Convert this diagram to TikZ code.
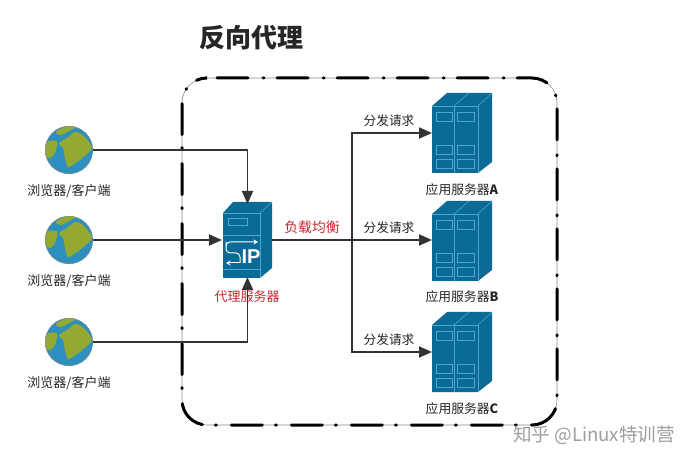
\documentclass[tikz,border=0pt]{standalone}
\usepackage{fontspec}
\setmainfont{Noto Sans CJK SC}
\newfontfamily\headsans{Liberation Sans}
\usetikzlibrary{arrows.meta}
\definecolor{srvblue}{HTML}{0B6A96}
\definecolor{srvline}{HTML}{4BA6CF}
\definecolor{seablue}{HTML}{2C8FBE}
\definecolor{landgreen}{HTML}{93A92F}
\definecolor{linkdark}{HTML}{333333}
\definecolor{alertred}{HTML}{C4282D}
\tikzset{
  iconbox/.style={inner sep=0pt,outer sep=0pt,draw=none,minimum width=#1},
  link/.style={draw=linkdark,line width=1.8pt,-{Triangle[length=13pt,width=11pt]}},
  linkplain/.style={draw=linkdark,line width=1.8pt},
  caption/.style={font=\fontsize{13}{15}\selectfont,text=black!85,inner sep=0pt},
  request/.style={font=\fontsize{12.7}{15}\selectfont,text=black!85,inner sep=0pt},
  appname/.style={font=\fontsize{12.8}{15}\selectfont,text=black!85,inner sep=0pt},
  alert/.style={font=\fontsize{13}{15}\selectfont,text=alertred,inner sep=0pt},
  title/.style={font=\fontsize{26}{30}\selectfont\bfseries,text=black!85,inner sep=0pt},
  watermark/.style={font=\fontsize{18.6}{20}\selectfont,text=black!38,inner sep=0pt},
  panel/.style={draw=black,line width=3pt,rounded corners=25pt,line cap=round},
  panelthin/.style={draw=black!45,line width=.6pt,rounded corners=25pt},
  winbox/.style={draw=srvline,line width=.8pt},
}
\newcommand{\globeicon}[2]{%
  \begin{scope}[shift={(#1,#2)}]
    \fill[seablue] (0,0) circle (24);
    \begin{scope}
      \clip (0,0) circle (24);
      \fill[landgreen] plot[smooth cycle,tension=.5] coordinates {(-10,-7) (-2,-12) (6,-18) (14,-15) (23,-3) (19,3) (8,12) (-1,17) (-4,8) (-6,-2)};
      \fill[landgreen] plot[smooth cycle,tension=.5] coordinates {(-25,-7) (-12,-9) (-14,3) (-19,8) (-25,5)};
      \fill[landgreen] plot[smooth cycle,tension=.5] coordinates {(-13,-18) (-2,-24) (8,-24) (2,-20) (-8,-15)};
      \draw[black!45,line width=1pt,opacity=.55] (0,0) circle (23.5);
    \end{scope}
  \end{scope}}
\newcommand{\rackicon}[1]{%
  \begin{scope}[yshift=#1]
    \fill[srvblue] (432,106) -- (447,93) -- (492,93) -- (492,162) -- (478,173) -- (432,173) -- cycle;
    \draw[srvline,line width=.6pt] (432,106) -- (478,106) -- (478,173);
    \draw[srvline,line width=.6pt] (478,106) -- (492,93);
    \draw[srvline,line width=.6pt] (454,106) -- (454,173);
    \draw[srvline,line width=.6pt] (454,106) -- (469,93);
    \foreach \yy in {112,145,159}{
      \draw[winbox] (436,\yy) rectangle (452,\yy+9);
      \draw[winbox] (457,\yy) rectangle (474,\yy+9);
    }
  \end{scope}}
\begin{document}
\begin{tikzpicture}[x=1pt,y=-1pt]
\useasboundingbox (0,0) rectangle (691,462);
\fill[white] (0,0) rectangle (691,462);
% title
\node[title] (heading) at (251,38) {反向代理};
% dash-dot panel
\draw[panelthin] (182,78) rectangle (557,425);
\draw[panel,dash pattern=on 31pt off 15pt on 1pt off 13pt,dash phase=49pt] (206,78) -- (557,78) -- (557,425) -- (182,425) -- (182,78) -- (206,78);
% clients
\node[iconbox=48pt,minimum height=48pt] (ca) at (69,150) {};
\node[iconbox=48pt,minimum height=48pt] (cb) at (69,240) {};
\node[iconbox=48pt,minimum height=48pt] (cc) at (69,342) {};
\globeicon{69}{150}\globeicon{69}{240}\globeicon{69}{342}
\node[caption] (la) at (69,191) {浏览器/客户端};
\node[caption] (lb) at (69,281) {浏览器/客户端};
\node[caption] (lc) at (69,383) {浏览器/客户端};
% proxy
\node[iconbox=49pt,minimum height=76pt] (proxy) at (247.5,240) {};
\fill[srvblue] (223,213) -- (233,202) -- (272,202) -- (272,268) -- (260,278) -- (223,278) -- cycle;
\draw[srvline,line width=.6pt] (223,213) -- (260,213) -- (260,278);
\draw[srvline,line width=.6pt] (260,213) -- (272,202);
\draw[srvline,line width=.8pt] (228,218) rectangle (247,225);
\draw[srvline,line width=.6pt] (223,235) -- (260,235);
\draw[srvline,line width=.6pt] (223,269) -- (260,269);
\draw[white,line width=1pt,-{Stealth[length=4.5pt,width=5pt]}] (240,263) -- (226,263);
\draw[white,line width=1pt,rounded corners=4pt] (240,263) -- (240,253) -- (226,253) -- (226,242);
\draw[white,line width=1pt,rounded corners=4pt,-{Stealth[length=4.5pt,width=5pt]}] (226,246) -- (226,242) -- (258,242);
\node[inner sep=0pt,text=white,font=\headsans\fontsize{20}{20}\selectfont\bfseries] (iptext) at (251,257) {IP};
\node[alert] (lp) at (247,297) {代理服务器};
\node[alert,font=\fontsize{13.8}{15}\selectfont] (lw) at (312,227) {负载均衡};
% app servers
\node[iconbox=60pt,minimum height=80pt] (sa) at (462,133) {};
\node[iconbox=60pt,minimum height=80pt] (sb) at (462,240) {};
\node[iconbox=60pt,minimum height=80pt] (sc) at (462,352) {};
\rackicon{0}\rackicon{-108}\rackicon{-219}
\node[appname] (ta) at (462,190) {应用服务器\textbf{A}};
\node[appname] (tb) at (462,297) {应用服务器\textbf{B}};
\node[appname] (tc) at (462,409) {应用服务器\textbf{C}};
\node[request] (da) at (389,121) {分发请求};
\node[request] (db) at (389,228) {分发请求};
\node[request] (dc) at (389,340) {分发请求};
% connectors
\coordinate (hub) at (352,240);
\draw[link] (ca.east) -| ([yshift=-2pt]proxy.north);
\draw[link] (cb.east) -- ([xshift=-1pt]proxy.west |- cb.east);
\draw[link] (cc.east) -| ([yshift=1pt]proxy.south);
\draw[linkplain] (proxy.east) -- (hub);
\draw[link] (hub) |- (sa.west);
\draw[link] (hub) -- (sb.west);
\draw[link] (hub) |- (sc.west);
% watermark
\node[watermark] (mark) at (594,435) {知乎 @Linux特训营};
\end{tikzpicture}
\end{document}
